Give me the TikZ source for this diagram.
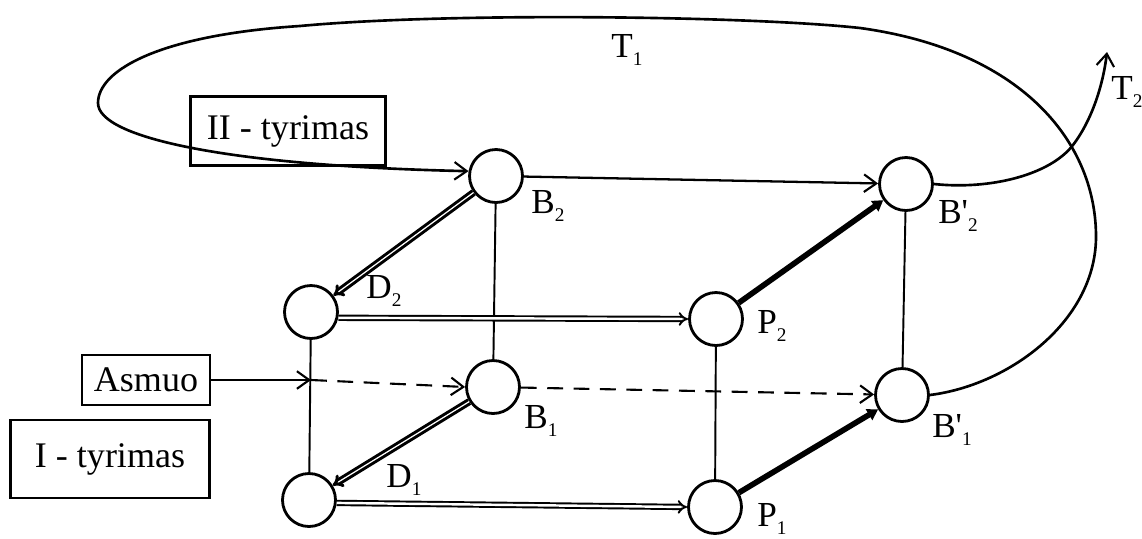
\documentclass[tikz,border=0pt]{standalone}
\usepackage{fontspec}
\setmainfont{Liberation Serif}
\usetikzlibrary{arrows.meta}
\newcommand{\lowsub}[1]{\raisebox{-0.45ex}{\fontsize{11}{11}\selectfont #1}}
\begin{document}
\begin{tikzpicture}[x=0.02cm,y=-0.02cm,
  state/.style={circle, draw, line width=1.6pt, minimum size=1.06cm, inner sep=0pt},
  box/.style={draw, line width=1.5pt, inner sep=0pt, font=\fontsize{20.5}{24}\selectfont},
  lbl/.style={font=\fontsize{20}{24}\selectfont, inner sep=0pt},
  thinline/.style={line width=1.1pt},
  barb/.style={-{Straight Barb[length=7pt,width=10pt,line width=1.2pt]}},
  dblarrow/.style={double, double distance=1.4pt, line width=1.1pt, -{Implies}},
  dkarrow/.style={double, double distance=0.7pt, line width=1.7pt, -{Implies}},
  heavyarrow/.style={line width=3.2pt, -{Triangle[length=6pt,width=7pt]}},
  dsh/.style={line width=1.2pt, dash pattern=on 9pt off 6pt}
]
\useasboundingbox (0,0) rectangle (1142,538);

% nodes
\node[state] (B2)  at (496,176) {};
\node[state] (B2p) at (906,184) {};
\node[state] (D2)  at (311,312) {};
\node[state] (P2)  at (716,319) {};
\node[state] (B1)  at (493,387) {};
\node[state] (B1p) at (902,395) {};
\node[state] (D1)  at (309,500) {};
\node[state] (P1)  at (715,507) {};

% boxes
\node[box, minimum width=3.9cm, minimum height=1.38cm] (II) at (288,131) {II - tyrimas};
\node[box, minimum width=2.56cm, minimum height=1.0cm] (As) at (146,380) {Asmuo};
\node[box, minimum width=3.98cm, minimum height=1.56cm] (I) at (110,459) {I - tyrimas};

% labels
\node[lbl] (lT1)  at (627,50)  {T\lowsub{1}};
\node[lbl] (lT2)  at (1127,92) {T\lowsub{2}};
\node[lbl] (lB2)  at (548,206) {B\lowsub{2}};
\node[lbl] (lB2p) at (958,216) {B\textquotesingle\lowsub{2}};
\node[lbl] (lD2)  at (384,291) {D\lowsub{2}};
\node[lbl] (lP2)  at (772,326) {P\lowsub{2}};
\node[lbl] (lB1)  at (541,421) {B\lowsub{1}};
\node[lbl] (lB1p) at (952,430) {B\textquotesingle\lowsub{1}};
\node[lbl] (lD1)  at (404,480) {D\lowsub{1}};
\node[lbl] (lP1)  at (772,519) {P\lowsub{1}};

% vertical thin lines
\draw[thinline] (B2) -- (B1);
\draw[thinline] (D2) -- (D1);
\draw[thinline] (P2) -- (P1);
\draw[thinline] (B2p) -- (B1p);

% B2 -> B'2
\draw[line width=1.3pt, barb] (B2) -- (B2p);

% Asmuo arrow and dashed line
\coordinate (asm) at (As.east -| D2);
\draw[line width=1.3pt, barb] (As.east) -- (asm);
\draw[dsh, barb] (asm) -- (B1.west);
\draw[dsh, barb] (B1) -- (B1p);

% double arrows
\draw[dkarrow] (B2) -- (D2);
\draw[dkarrow] (B1) -- (D1);
\draw[dblarrow] (D2.-12) -- (P2.west);
\draw[dblarrow] (D1.-6) -- (P1.west);
\draw[heavyarrow] (P2) -- (B2p);
\draw[heavyarrow] (P1) -- (B1p);

% big loop T1
\draw[line width=1.5pt, barb] (B1p.east)
  .. controls (1010,385) and (1097,320) .. (1096,235)
  .. controls (1095,140) and (1020,50) .. (860,28)
  .. controls (750,16) and (450,12) .. (300,26)
  .. controls (160,35) and (98,70) .. (98,103)
  .. controls (98,138) and (230,166) .. (B2.170);

% T2 arrow
\draw[line width=1.5pt, barb] (B2p.east) .. controls (990,190) and (1050,175) .. (1073,145)
  .. controls (1092,120) and (1103,85) .. (1107,52);
\end{tikzpicture}
\end{document}
